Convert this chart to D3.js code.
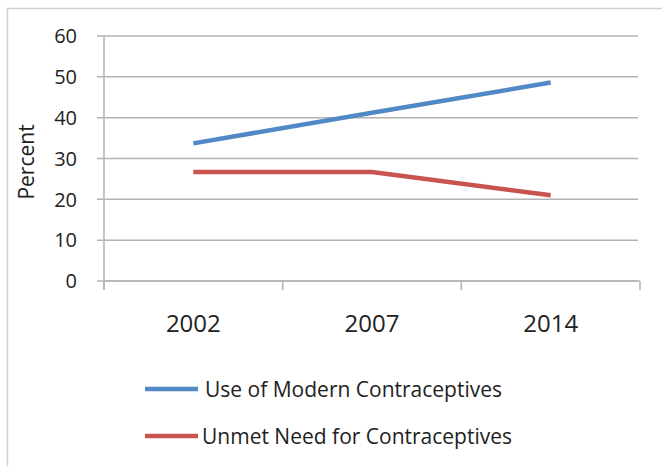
<!DOCTYPE html>
<html>
<head>
<meta charset="utf-8">
<script src="https://cdn.jsdelivr.net/npm/d3@7"></script>
<style>
  body { margin: 0; background: #fff; }
  text { font-family: "Open Sans", "Liberation Sans", sans-serif; fill: #222; }
</style>
</head>
<body>
<script>
const years = ["2002", "2007", "2014"];
const modernUse = [33.7, 41.2, 48.6];
const unmetNeed = [26.7, 26.7, 21.0];
const seriesNames = ["Use of Modern Contraceptives", "Unmet Need for Contraceptives"];
const seriesColors = ["#5089C6", "#C9534E"];
const yTicks = [0, 10, 20, 30, 40, 50, 60];

const WIDTH = 662;
const HEIGHT = 466;

const svg = d3.select('body')
  .append('svg')
  .attr('width', WIDTH)
  .attr('height', HEIGHT);

// outer frame
svg.append('rect')
  .attr('x', 7.5).attr('y', 8.5)
  .attr('width', 700).attr('height', 500)
  .attr('fill', 'none')
  .attr('stroke', '#d0d0d0')
  .attr('stroke-width', 1.5);

const plotLeft = 104, plotRight = 640, plotTop = 36, plotBottom = 281;

const x = d3.scaleBand().domain(years).range([plotLeft, plotRight]);
const y = d3.scaleLinear().domain([0, 60]).range([plotBottom, plotTop]);

// gridlines
svg.append('g')
  .selectAll('line')
  .data(yTicks)
  .enter()
  .append('line')
  .attr('x1', plotLeft - 7).attr('x2', plotRight - 2)
  .attr('y1', d => y(d)).attr('y2', d => y(d))
  .attr('stroke', '#b3b3b3')
  .attr('stroke-width', 1.5);

// y axis line
svg.append('line')
  .attr('x1', plotLeft).attr('x2', plotLeft)
  .attr('y1', plotTop).attr('y2', plotBottom + 9)
  .attr('stroke', '#b3b3b3').attr('stroke-width', 1.5);

// x axis line and ticks between categories
svg.append('line')
  .attr('x1', plotLeft).attr('x2', plotRight)
  .attr('y1', plotBottom).attr('y2', plotBottom)
  .attr('stroke', '#b3b3b3').attr('stroke-width', 1.5);

const bounds = years.map(d => x(d)).concat([plotRight]);
svg.append('g')
  .selectAll('line')
  .data(bounds)
  .enter()
  .append('line')
  .attr('x1', d => d).attr('x2', d => d)
  .attr('y1', plotBottom).attr('y2', plotBottom + 9)
  .attr('stroke', '#b3b3b3').attr('stroke-width', 1.5);

svg.append('g')
  .selectAll('text')
  .data(years)
  .enter()
  .append('text')
  .attr('x', d => x(d) + x.bandwidth() / 2)
  .attr('y', 332)
  .attr('text-anchor', 'middle')
  .style('font-size', '24px')
  .text(d => d);

// y labels
svg.append('g')
  .selectAll('text')
  .data(yTicks)
  .enter()
  .append('text')
  .attr('x', 77)
  .attr('y', d => y(d))
  .attr('dy', '0.36em')
  .attr('text-anchor', 'end')
  .style('font-size', '20px')
  .text(d => d);

svg.append('text')
  .attr('transform', 'translate(34,' + 162 + ') rotate(-90)')
  .attr('text-anchor', 'middle')
  .style('font-size', '21px')
  .text('Percent');

// lines
const line = d3.line()
  .x((d, i) => x(years[i]) + x.bandwidth() / 2)
  .y(d => y(d));

[modernUse, unmetNeed].forEach(function(vals, i) {
  svg.append('path')
    .datum(vals)
    .attr('d', line)
    .attr('fill', 'none')
    .attr('stroke', seriesColors[i])
    .attr('stroke-width', 4.5)
    .attr('stroke-linejoin', 'round');
});

// legend
const legend = svg.append('g')
  .selectAll('g')
  .data(seriesNames)
  .enter()
  .append('g')
  .attr('transform', (d, i) => 'translate(145,' + (389 + i * 47) + ')');

legend.append('line')
  .attr('x1', 0).attr('x2', 53)
  .attr('stroke', (d, i) => seriesColors[i])
  .attr('stroke-width', 4.5);

legend.append('text')
  .attr('x', (d, i) => i === 0 ? 60 : 57)
  .attr('dy', '0.36em')
  .style('font-size', '21px')
  .text(d => d);
</script>
</body>
</html>
